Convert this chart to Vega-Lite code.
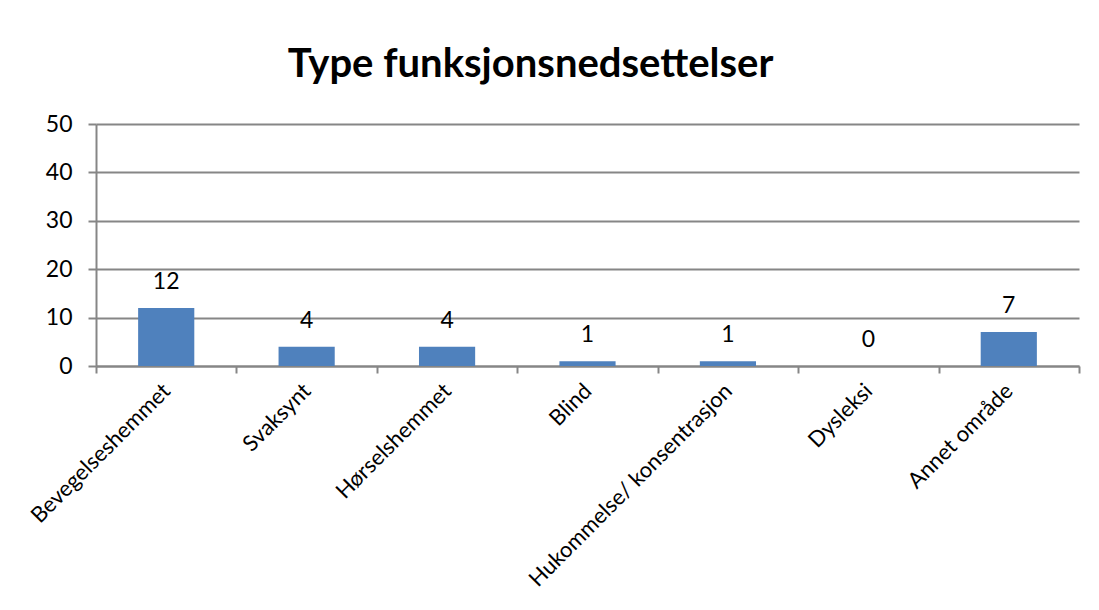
{
  "$schema": "https://vega.github.io/schema/vega-lite/v6.json",
  "autosize": "none",
  "width": 983,
  "height": 242,
  "padding": {"left": 96, "top": 124, "right": 20, "bottom": 244},
  "background": "white",
  "title": {
    "text": "Type funksjonsnedsettelser",
    "font": "Lato",
    "fontSize": 40,
    "fontWeight": "bold",
    "color": "black",
    "anchor": "middle",
    "frame": "group",
    "dx": -57,
    "baseline": "alphabetic",
    "offset": -4
  },
  "config": {"view": {"stroke": null}},
  "data": {
    "values": [
      {"kategori": "Bevegelseshemmet", "antall": 12},
      {"kategori": "Svaksynt", "antall": 4},
      {"kategori": "Hørselshemmet", "antall": 4},
      {"kategori": "Blind", "antall": 1},
      {"kategori": "Hukommelse/ konsentrasjon", "antall": 1},
      {"kategori": "Dysleksi", "antall": 0},
      {"kategori": "Annet område", "antall": 7}
    ]
  },
  "encoding": {
    "x": {
      "field": "kategori",
      "type": "nominal",
      "sort": null,
      "scale": {"paddingInner": 0, "paddingOuter": 0},
      "axis": {
        "title": null,
        "labelAngle": -45,
        "labelAlign": "right",
        "labelBaseline": "middle",
        "labelFont": "Lato",
        "labelFontSize": 22,
        "labelLimit": 500,
        "labelColor": "black",
        "labelPadding": 14,
        "tickBand": "extent",
        "tickSize": 7,
        "tickColor": "#868686",
        "tickWidth": 2,
        "domainColor": "#868686",
        "domainWidth": 2,
        "grid": false
      }
    },
    "y": {
      "field": "antall",
      "type": "quantitative",
      "scale": {"domain": [0, 50]},
      "axis": {
        "title": null,
        "values": [0, 10, 20, 30, 40, 50],
        "labelFont": "Lato",
        "labelFontSize": 23,
        "labelColor": "black",
        "labelPadding": 16,
        "tickSize": 8,
        "tickColor": "#868686",
        "tickWidth": 2,
        "domainColor": "#868686",
        "domainWidth": 2,
        "grid": true,
        "gridColor": "#868686",
        "gridWidth": 2
      }
    }
  },
  "layer": [
    {"mark": {"type": "bar", "color": "#4F81BD", "width": {"band": 0.4}}},
    {
      "mark": {"type": "text", "baseline": "bottom", "dy": -14, "font": "Lato", "fontSize": 23, "color": "black"},
      "encoding": {"text": {"field": "antall", "type": "quantitative"}}
    }
  ]
}
